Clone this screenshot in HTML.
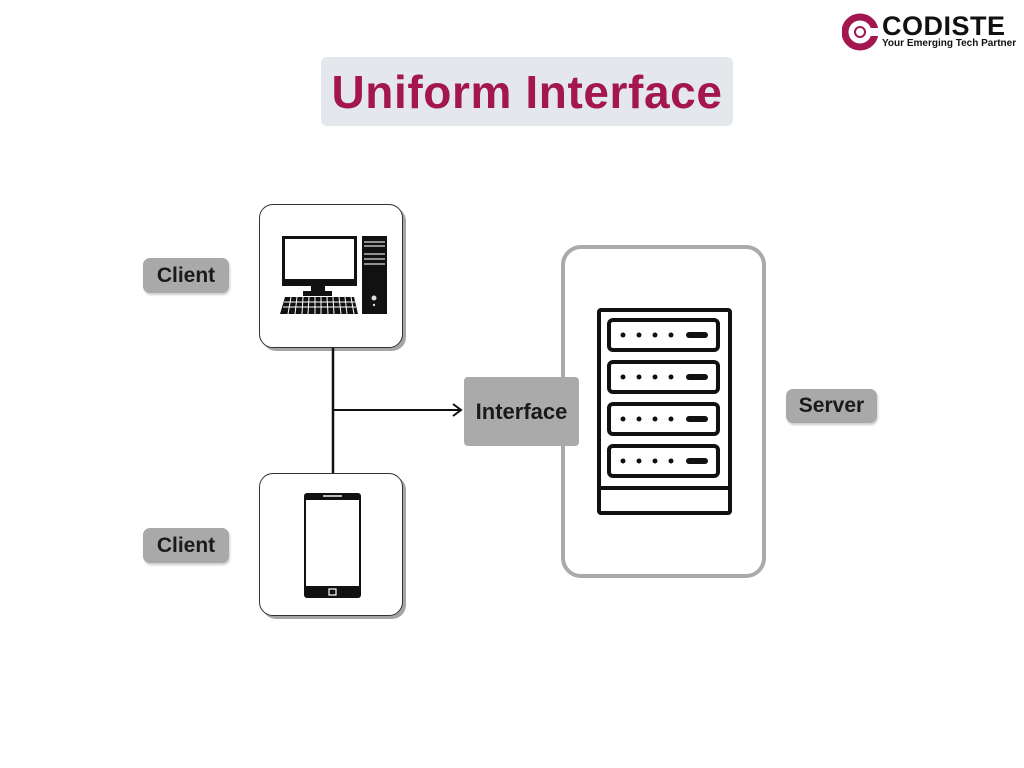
<!DOCTYPE html>
<html><head><meta charset="utf-8"><style>
body{margin:0;width:1024px;height:768px;background:#fff;position:relative;overflow:hidden;font-family:"Liberation Sans",sans-serif}
.a{position:absolute;box-sizing:border-box}
.lbl{background:#a9a9a9;border-radius:7px;font-weight:bold;color:#1a1a1a;font-size:21px;display:flex;align-items:center;justify-content:center;box-shadow:1px 2px 2px #ccc}
.card{background:#fff;border:1.5px solid #333;border-radius:14px;box-shadow:3px 3px 0 #a5a5a5}
</style></head><body>
<!-- logo -->
<svg class="a" style="left:842px;top:13px" width="36" height="38" viewBox="0 0 36 38">
<circle cx="18" cy="19" r="15" fill="none" stroke="#a3164f" stroke-width="7"/>
<rect x="26" y="15" width="12" height="8" fill="#fff"/>
<circle cx="18" cy="19" r="5" fill="none" stroke="#a3164f" stroke-width="2"/>
</svg>
<div class="a" style="left:882px;top:11px;font-size:27px;font-weight:bold;color:#111;letter-spacing:0.5px">CODISTE</div>
<div class="a" style="left:882px;top:38px;font-size:10px;font-weight:bold;color:#111">Your Emerging Tech Partner</div>
<!-- title -->
<div class="a" style="left:321px;top:57px;width:412px;height:69px;background:#e4e8ed;border-radius:6px;color:#a3164f;font-weight:bold;font-size:46px;letter-spacing:0.6px;display:flex;align-items:center;justify-content:center">Uniform Interface</div>
<!-- labels -->
<div class="a lbl" style="left:143px;top:258px;width:86px;height:35px">Client</div>
<div class="a lbl" style="left:143px;top:528px;width:86px;height:35px">Client</div>
<div class="a lbl" style="left:786px;top:389px;width:91px;height:34px">Server</div>
<!-- cards -->
<div class="a card" style="left:259px;top:204px;width:144px;height:144px"></div>
<div class="a card" style="left:259px;top:473px;width:144px;height:143px"></div>
<!-- server box -->
<div class="a" style="left:561px;top:245px;width:205px;height:333px;border:4px solid #aaa;border-radius:20px;background:#fff"></div>
<svg class="a" style="left:0;top:0" width="1024" height="768">
<line x1="333" y1="348" x2="333" y2="473" stroke="#111" stroke-width="2.5"/>
<line x1="333" y1="410" x2="460" y2="410" stroke="#111" stroke-width="2"/>
<polyline points="453,404 461,410 453,416" fill="none" stroke="#111" stroke-width="2"/>
<!-- computer -->
<rect x="282" y="236" width="75" height="50" fill="#111"/>
<rect x="285" y="239" width="69" height="40" fill="#fff"/>
<rect x="311" y="286" width="14" height="6" fill="#111"/>
<rect x="303" y="291" width="29" height="5" fill="#111"/>
<polygon points="285,297 354,297 358,314 280,314" fill="#111"/>
<g stroke="#fff" stroke-width="1">
<line x1="284" y1="302" x2="355" y2="302"/><line x1="283" y1="307" x2="356" y2="307"/>
<line x1="291" y1="297" x2="288" y2="314"/><line x1="297" y1="297" x2="295" y2="314"/><line x1="303" y1="297" x2="302" y2="314"/><line x1="309" y1="297" x2="308" y2="314"/><line x1="315" y1="297" x2="315" y2="314"/><line x1="321" y1="297" x2="321" y2="314"/><line x1="327" y1="297" x2="328" y2="314"/><line x1="333" y1="297" x2="334" y2="314"/><line x1="339" y1="297" x2="341" y2="314"/><line x1="345" y1="297" x2="347" y2="314"/><line x1="351" y1="297" x2="354" y2="314"/>
</g>
<rect x="362" y="236" width="25" height="78" fill="#111"/>
<g stroke="#bbb" stroke-width="1.5"><line x1="364" y1="242" x2="385" y2="242"/><line x1="364" y1="246" x2="385" y2="246"/><line x1="364" y1="254" x2="385" y2="254"/><line x1="364" y1="259" x2="385" y2="259"/><line x1="364" y1="264" x2="385" y2="264"/></g>
<circle cx="374" cy="298" r="2.5" fill="#ddd"/><circle cx="374" cy="305" r="1.2" fill="#ddd"/>
<!-- phone -->
<rect x="304" y="493" width="57" height="105" rx="3" fill="#111"/>
<rect x="306" y="500" width="53" height="86" fill="#fff"/>
<rect x="323" y="495" width="19" height="2" fill="#bbb"/>
<rect x="329" y="589" width="7" height="6" fill="none" stroke="#fff" stroke-width="1.2"/>
<!-- rack -->
<rect x="599" y="310" width="131" height="203" rx="2" fill="none" stroke="#111" stroke-width="4"/>
<g fill="none" stroke="#111" stroke-width="4">
<rect x="609" y="320" width="109" height="30" rx="4"/>
<rect x="609" y="362" width="109" height="30" rx="4"/>
<rect x="609" y="404" width="109" height="30" rx="4"/>
<rect x="609" y="446" width="109" height="30" rx="4"/>
<line x1="599" y1="488" x2="730" y2="488"/>
</g>
<g fill="#111">
<circle cx="623" cy="335" r="2.5"/><circle cx="639" cy="335" r="2.5"/><circle cx="655" cy="335" r="2.5"/><circle cx="671" cy="335" r="2.5"/><rect x="686" y="332" width="22" height="6" rx="3"/>
<circle cx="623" cy="377" r="2.5"/><circle cx="639" cy="377" r="2.5"/><circle cx="655" cy="377" r="2.5"/><circle cx="671" cy="377" r="2.5"/><rect x="686" y="374" width="22" height="6" rx="3"/>
<circle cx="623" cy="419" r="2.5"/><circle cx="639" cy="419" r="2.5"/><circle cx="655" cy="419" r="2.5"/><circle cx="671" cy="419" r="2.5"/><rect x="686" y="416" width="22" height="6" rx="3"/>
<circle cx="623" cy="461" r="2.5"/><circle cx="639" cy="461" r="2.5"/><circle cx="655" cy="461" r="2.5"/><circle cx="671" cy="461" r="2.5"/><rect x="686" y="458" width="22" height="6" rx="3"/>
</g>
</svg>
<div class="a" style="left:464px;top:377px;width:115px;height:69px;background:#aaa;border-radius:4px;font-weight:bold;font-size:22px;color:#1a1a1a;display:flex;align-items:center;justify-content:center">Interface</div>
</body></html>
